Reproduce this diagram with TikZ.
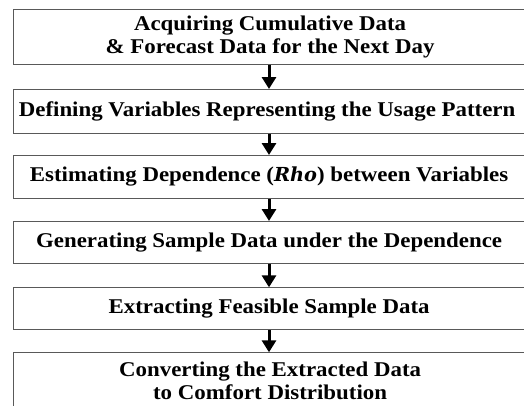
\documentclass[tikz,border=0pt]{standalone}
\usepackage{fontspec}
\setmainfont[FakeStretch=1.09]{Liberation Serif}
\newfontfamily\rhofont[Scale=0.92]{DejaVu Serif}
\usetikzlibrary{arrows.meta}
\begin{document}
\begin{tikzpicture}[x=1pt,y=-1pt,
  stepbox/.style={draw=black!65, line width=0.8pt, minimum width=514pt, inner sep=0pt,
    align=center, anchor=north west,
    font=\fontsize{21}{22.3}\selectfont\bfseries},
  flow/.style={-{Triangle[width=14pt,length=12pt]}, line width=3pt}]
\useasboundingbox (0,0) rectangle (524,405);
\node[stepbox, minimum height=54.5pt] (b1) at (12.7,9.3)
  {Acquiring Cumulative Data\\ \& Forecast Data for the Next Day};
\node[stepbox, minimum height=44pt] (b2) at (12.7,89)
  {Defining Variables Representing the Usage Pattern\hspace*{6pt}};
\node[stepbox, minimum height=43pt] (b3) at (12.7,155)
  {Estimating Dependence ({\rhofont\itshape Rho}) between Variables\hspace*{2pt}};
\node[stepbox, minimum height=42pt] (b4) at (12.7,221)
  {Generating Sample Data under the Dependence\hspace*{2pt}};
\node[stepbox, minimum height=42pt] (b5) at (12.7,287.3)
  {Extracting Feasible Sample Data\hspace*{2pt}};
\node[stepbox, minimum height=56pt] (b6) at (12.7,352.3)
  {Converting the Extracted Data\\ to Comfort Distribution};
\draw[flow] (b1.south -| 269,0) -- (b2.north -| 269,0);
\draw[flow] (b2.south -| 269,0) -- (b3.north -| 269,0);
\draw[flow] (b3.south -| 269,0) -- (b4.north -| 269,0);
\draw[flow] (b4.south -| 269,0) -- (b5.north -| 269,0);
\draw[flow] (b5.south -| 269,0) -- (b6.north -| 269,0);
\end{tikzpicture}
\end{document}
